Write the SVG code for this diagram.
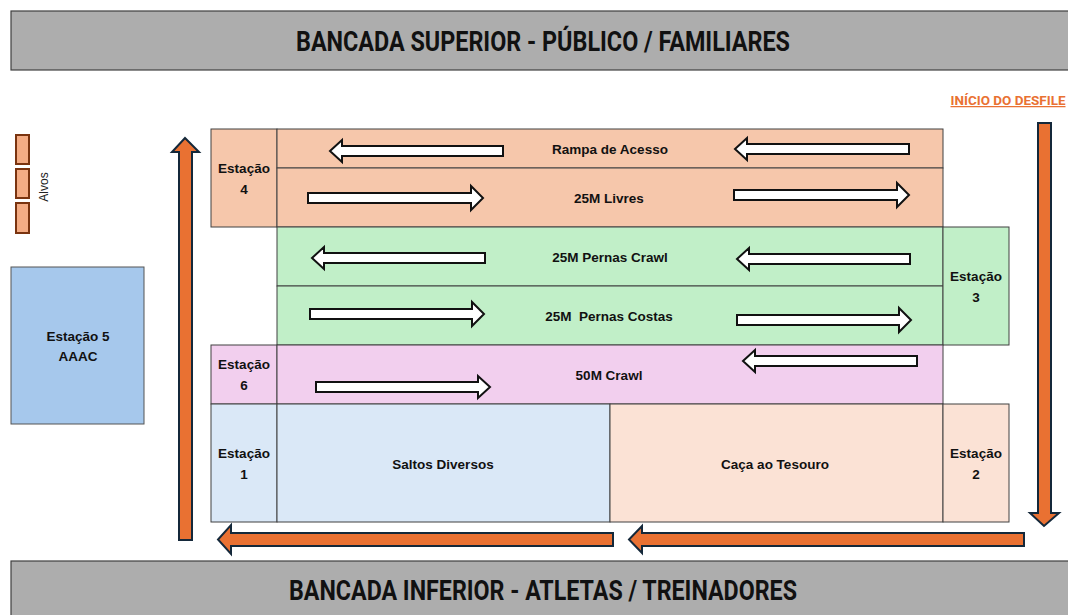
<svg xmlns="http://www.w3.org/2000/svg" width="1068" height="615" viewBox="0 0 1068 615">
<style>
.banner{fill:#adadad;stroke:#404040;stroke-width:1.2}
.btxt{font-family:Roboto,"Liberation Sans",sans-serif;font-weight:bold;font-size:27px;fill:#111;text-anchor:middle}
.cell{stroke:#404040;stroke-width:1}
.peach{fill:#f6c7ab}
.green{fill:#c1efc8}
.purple{fill:#f2cfee}
.blue{fill:#dae8f7}
.lpeach{fill:#fbe2d5}
.lbl{font-family:"Liberation Sans",Arial,sans-serif;font-weight:bold;font-size:13.5px;fill:#111;text-anchor:middle;white-space:pre}
.wa{fill:#fff;stroke:#111;stroke-width:2;stroke-linejoin:miter}
.oa{fill:#e97132;stroke:#14283a;stroke-width:2}
.tgt{fill:#f4ac84;stroke:#7a3410;stroke-width:2}
</style>

<g id="banner-top">
<rect class="banner" x="11" y="11" width="1070" height="59"/>
<text class="btxt" x="543" y="51" textLength="494" lengthAdjust="spacingAndGlyphs">BANCADA SUPERIOR - PÚBLICO / FAMILIARES</text>
</g>
<g id="banner-bottom">
<rect class="banner" x="11" y="561" width="1070" height="60"/>
<text class="btxt" x="543" y="600" textLength="508" lengthAdjust="spacingAndGlyphs">BANCADA INFERIOR - ATLETAS / TREINADORES</text>
</g>

<g id="inicio">
<text x="1008" y="105" font-family="Roboto,'Liberation Sans',sans-serif" font-weight="bold" font-size="12.5" fill="#e97132" text-anchor="middle" text-decoration="underline" textLength="115" lengthAdjust="spacingAndGlyphs">INÍCIO DO DESFILE</text>
</g>

<g id="alvos">
<rect class="tgt" x="16" y="135" width="13" height="29"/>
<rect class="tgt" x="16" y="169" width="13" height="29"/>
<rect class="tgt" x="16" y="203" width="13" height="30"/>
<text transform="translate(48,187) rotate(-90)" font-family="'Liberation Sans',Arial,sans-serif" font-size="12" fill="#222" text-anchor="middle">Alvos</text>
</g>

<g id="estacao5">
<rect x="11" y="267" width="133" height="157" fill="#a6c8ec" stroke="#555" stroke-width="1"/>
<text class="lbl" x="78" y="341">Estação 5</text>
<text class="lbl" x="78" y="361">AAAC</text>
</g>

<g id="estacao4">
<rect class="cell peach" x="211" y="129" width="66" height="98"/>
<text class="lbl" x="244" y="173">Estação</text>
<text class="lbl" x="244" y="194">4</text>
</g>
<g id="rampa">
<rect class="cell peach" x="277" y="129" width="666" height="39"/>
<text class="lbl" x="610" y="154">Rampa de Acesso</text>
</g>
<g id="livres">
<rect class="cell peach" x="277" y="168" width="666" height="59"/>
<text class="lbl" x="609" y="203">25M Livres</text>
</g>
<g id="pernas-crawl">
<rect class="cell green" x="277" y="227" width="666" height="59"/>
<text class="lbl" x="610" y="262">25M Pernas Crawl</text>
</g>
<g id="pernas-costas">
<rect class="cell green" x="277" y="286" width="666" height="59"/>
<text class="lbl" x="609" y="321">25M  Pernas Costas</text>
</g>
<g id="estacao3">
<rect class="cell green" x="943" y="227" width="66" height="118"/>
<text class="lbl" x="976" y="281">Estação</text>
<text class="lbl" x="976" y="302">3</text>
</g>
<g id="estacao6">
<rect class="cell purple" x="211" y="345" width="66" height="59"/>
<text class="lbl" x="244" y="369">Estação</text>
<text class="lbl" x="244" y="390">6</text>
</g>
<g id="crawl50">
<rect class="cell purple" x="277" y="345" width="666" height="59"/>
<text class="lbl" x="609" y="380">50M Crawl</text>
</g>
<g id="estacao1">
<rect class="cell blue" x="211" y="404" width="66" height="118"/>
<text class="lbl" x="244" y="458">Estação</text>
<text class="lbl" x="244" y="479">1</text>
</g>
<g id="saltos">
<rect class="cell blue" x="277" y="404" width="333" height="118"/>
<text class="lbl" x="443" y="469">Saltos Diversos</text>
</g>
<g id="caca">
<rect class="cell lpeach" x="610" y="404" width="333" height="118"/>
<text class="lbl" x="775" y="469">Caça ao Tesouro</text>
</g>
<g id="estacao2">
<rect class="cell lpeach" x="943" y="404" width="66" height="118"/>
<text class="lbl" x="976" y="458">Estação</text>
<text class="lbl" x="976" y="479">2</text>
</g>

<g id="connectors">
<polygon class="wa" points="330,151 342,140 342,146 503,146 503,156 342,156 342,162"/>
<polygon class="wa" points="735,149 747,138 747,144 909,144 909,154 747,154 747,160"/>
<polygon class="wa" points="308,193 471,193 471,186 483,198 471,210 471,203 308,203"/>
<polygon class="wa" points="734,190 897,190 897,183 909,195 897,207 897,200 734,200"/>
<polygon class="wa" points="312,258 324,247 324,253 485,253 485,263 324,263 324,269"/>
<polygon class="wa" points="737,259 749,248 749,254 910,254 910,264 749,264 749,270"/>
<polygon class="wa" points="310,309 472,309 472,302 484,314 472,326 472,319 310,319"/>
<polygon class="wa" points="737,315 899,315 899,308 911,320 899,332 899,325 737,325"/>
<polygon class="wa" points="316,382 478,382 478,376 490,387 478,398 478,392 316,392"/>
<polygon class="wa" points="743,361 755,350 755,356 917,356 917,366 755,366 755,372"/>
<polygon class="oa" points="185,138 199,152 192,152 192,540 179,540 179,152 172,152"/>
<polygon class="oa" points="1038,123 1051,123 1051,513 1059,513 1044,526 1030,513 1038,513"/>
<polygon class="oa" points="1024,533 1024,546 642,546 642,553 629,539.5 642,526 642,533"/>
<polygon class="oa" points="613,533 613,546 231,546 231,554 218,539.5 231,525 231,533"/>
</g>
</svg>
